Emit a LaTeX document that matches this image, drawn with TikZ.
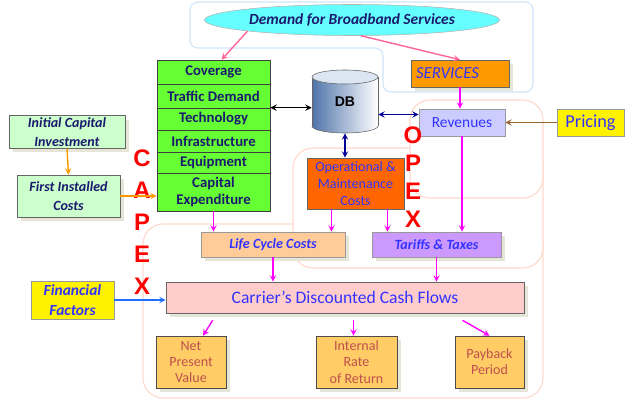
\documentclass[tikz,border=0pt]{standalone}
\usepackage{fontspec}
\setmainfont{Carlito}
\newfontfamily\arialf{Liberation Sans}
\usetikzlibrary{calc,shadows,shapes.geometric}

\definecolor{navy}{HTML}{1A1A6E}
\definecolor{txtblue}{HTML}{3333FF}
\definecolor{stackgreen}{HTML}{66FF33}
\definecolor{demandcyan}{HTML}{66FFFF}
\definecolor{srvorange}{HTML}{FF9900}
\definecolor{oporange}{HTML}{FF6600}
\definecolor{revlav}{HTML}{CCCCFF}
\definecolor{lccpeach}{HTML}{FFCC99}
\definecolor{tarviolet}{HTML}{CC99FF}
\definecolor{cdcfpink}{HTML}{FFCCCC}
\definecolor{outorange}{HTML}{FFCC66}
\definecolor{outred}{HTML}{C0504D}
\definecolor{capgreen}{HTML}{CCFFCC}
\definecolor{shadowgray}{HTML}{E6E6D8}
\definecolor{regionpink}{HTML}{FFD8CC}
\definecolor{regionblue}{HTML}{D0E4F8}
\definecolor{arrmag}{HTML}{FF00FF}
\definecolor{arrpink}{HTML}{FF6699}
\definecolor{arrorange}{HTML}{FF9900}
\definecolor{arrbrown}{HTML}{996633}
\definecolor{arrdark}{HTML}{000099}
\definecolor{arrblue}{HTML}{1F6FFF}
\definecolor{dbblue}{HTML}{4F74AA}
\definecolor{dbtop}{HTML}{DCE6F2}

\tikzset{
  boxsize/.style n args={2}{minimum width=#1*0.025cm,minimum height=#2*0.025cm},
  shd/.style={drop shadow={shadow xshift=3pt,shadow yshift=-3pt,fill=shadowgray,opacity=1}},
  stack/.style={draw=black!75,fill=stackgreen,text=navy,align=center,
    font=\fontsize{10.5}{12}\selectfont\bfseries},
  capbox/.style={draw=black!60,fill=capgreen,text=navy,align=center,shd,
    font=\fontsize{10}{14}\selectfont\bfseries\itshape},
  outbox/.style={draw=black!70,fill=outorange,text=outred,align=center,shd,
    boxsize={#1}{52},font=\fontsize{10}{11.5}\selectfont},
  letter/.style={text=red,font=\fontsize{17}{17}\selectfont\arialf\bfseries},
  region/.style={draw=#1,line width=0.8pt,rounded corners=0.5cm},
  link/.style={->,line width=1pt,draw=#1}
}

\begin{document}
\begin{tikzpicture}[x=0.025cm,y=-0.025cm,>=stealth,every node/.style={inner sep=1pt}]
\useasboundingbox (0,0) rectangle (640,407);

% outlines behind the boxes
\draw[region=regionblue,rounded corners=0.2cm] (190,2) -- (533,2) -- (533,92) -- (383,92) -- (383,48) -- (190,48) -- cycle;
\draw[region=regionpink] (143,224) rectangle (543,398);
\draw[region=regionpink,fill=white] (293,148) rectangle (543,268);
\draw[region=regionpink,fill=white] (410,100) rectangle (543,198);

% data base
\draw[draw=black!60,left color=dbblue,right color=white] (345,126) ellipse [x radius=33,y radius=7];
\shade[left color=dbblue,right color=white] (312,77) rectangle (378,126);
\draw[black!60] (312,77) -- (312,126) (378,77) -- (378,126);
\draw[draw=black!60,fill=dbtop] (345,77) ellipse [x radius=33,y radius=7];
\node[boxsize={66}{63},font=\fontsize{10}{12}\selectfont\arialf\bfseries] (DB) at (345,101.5) {DB};

\node[ellipse,draw=black!30,fill=demandcyan,boxsize={295}{31},text=navy,
  font=\fontsize{11}{12}\selectfont\bfseries\itshape] (demand) at (352,20) {Demand for Broadband Services};

\node[stack,boxsize={113}{24}] (cov) at (213.5,72) {Coverage};
\node[stack,boxsize={113}{24}] (traffic) at (213.5,96) {Traffic Demand};
\node[stack,boxsize={113}{22}] (tech) at (213.5,119) {Technology};
\node[stack,boxsize={113}{22}] (infra) at (213.5,141) {Infrastructure};
\node[stack,boxsize={113}{21}] (equip) at (213.5,162.5) {Equipment};
\node[stack,boxsize={113}{38}] (capex) at (213.5,192) {Capital\\Expenditure};

\node[draw=black!60,fill=srvorange,shd,boxsize={98}{27},text=txtblue,text width=88*0.025cm,align=left,
  font=\fontsize{12}{14}\selectfont\itshape] (srv) at (460,73.5) {SERVICES};
\node[draw=black!40,fill=revlav,boxsize={86}{27},text=txtblue,
  font=\fontsize{11}{13}\selectfont] (rev) at (462,122.5) {Revenues};
\node[draw=black!40,fill=yellow,boxsize={67}{27},text=txtblue,
  font=\fontsize{13}{15}\selectfont] (price) at (590.5,122.5) {Pricing};
\node[draw=black!60,fill=oporange,boxsize={97}{51},text=txtblue,align=center,
  font=\fontsize{10}{12}\selectfont] (op) at (355.5,183.5) {Operational \&\\Maintenance\\Costs};
\node[draw=black!40,fill=lccpeach,shd,boxsize={144}{25},text=txtblue,
  font=\fontsize{10}{12}\selectfont\bfseries\itshape] (lcc) at (273,244.5) {Life Cycle Costs};
\node[draw=black!40,fill=tarviolet,shd,boxsize={129}{25},text=txtblue,
  font=\fontsize{10}{12}\selectfont\bfseries\itshape] (tax) at (436.5,244.5) {Tariffs \& Taxes};
\node[draw=black!60,fill=cdcfpink,shd,boxsize={358}{31},text=txtblue,
  font=\fontsize{12.5}{14}\selectfont] (cdcf) at (345,297.5) {Carrier’s Discounted Cash Flows};
\node[draw=black!40,fill=yellow,boxsize={83}{38},text=txtblue,align=center,
  font=\fontsize{11}{14}\selectfont\bfseries\itshape] (fin) at (72.5,300) {Financial\\Factors};

\node[outbox=70] (npv) at (191,362) {Net\\Present\\Value};
\node[outbox=81] (irr) at (356.5,362) {Internal\\Rate\\of Return};
\node[outbox=69] (pp) at (489.5,362) {Payback\\Period};

\node[capbox,boxsize={116}{32}] (ici) at (67,132) {Initial Capital\\Investment};
\node[capbox,boxsize={103}{42}] (fic) at (68.5,196) {First Installed\\Costs};

\foreach \l [count=\i] in {C,A,P,E,X}
  \node[letter] (cap\i) at (142,158+32*\i-32) {\l};
\foreach \l [count=\i] in {O,P,E,X}
  \node[letter] (opx\i) at (413,135+28*\i-28) {\l};

\coordinate (opL) at ($(op.south)+(-24,0)$);
\coordinate (opR) at ($(op.south)+(32,0)$);
\coordinate (revW) at ($(rev.west)+(0,-8)$);
\coordinate (npvS) at ($(cdcf.south west)+(47,7)$);
\coordinate (irrS) at ($(cdcf.south -| irr.north)+(-3,7)$);
\coordinate (ppS) at ($(cdcf.south -| pp.north)+(-27,7)$);

\draw[link=arrpink] (demand.south west) -- ($(cov.north)+(8,0)$);
\draw[link=arrpink] (demand.-60) -- (srv.north);
\draw[<->,line width=1pt] (tech.north east) -- (tech.north east -| DB.west);
\draw[<->,line width=1pt,arrdark] (revW) -- (revW -| DB.east);
\draw[<->,line width=1pt,arrdark] (DB.south) -- (DB.south |- op.north);
\draw[link=arrbrown] (price.west) -- (rev.east);
\draw[link=arrmag] (srv.south) -- (srv.south |- rev.north);
\draw[link=arrmag] (rev.south) -- (rev.south |- tax.north);
\draw[link=arrmag] (capex.south) -- (capex.south |- lcc.north);
\draw[link=arrmag] (opL) -- (opL |- lcc.north);
\draw[link=arrmag] (opR) -- (opR |- tax.north);
\draw[link=arrmag] (lcc.south) -- (lcc.south |- cdcf.north);
\draw[link=arrmag] (tax.south) -- (tax.south |- cdcf.north);
\draw[link=arrblue] (fin.east) -- (fin.east -| cdcf.west);
\draw[link=arrmag] (npvS) -- ($(npv.north)+(12,0)$);
\draw[link=arrmag] (irrS) -- (irrS |- irr.north);
\draw[link=arrmag] (ppS) -- (pp.north);
\draw[link=arrorange] (ici.south) -- (fic.north);
\draw[link=arrorange] (fic.east) -- (fic.east -| capex.west);
\end{tikzpicture}
\end{document}
